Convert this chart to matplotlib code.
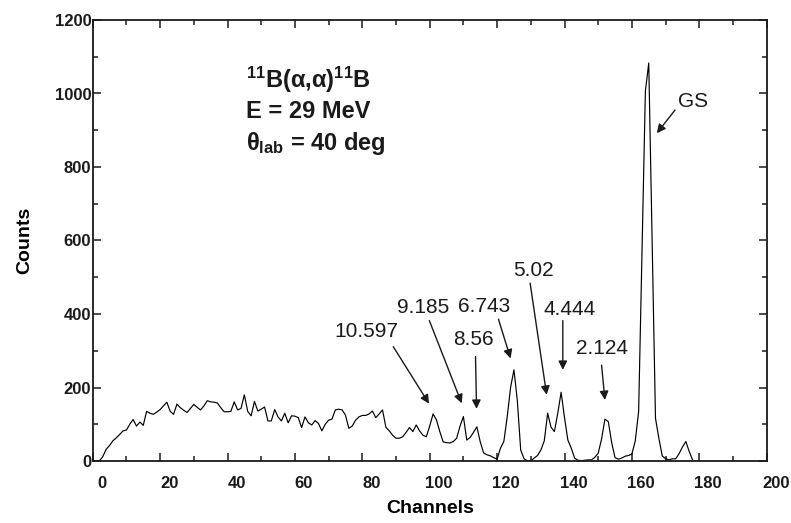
import numpy as np
import matplotlib
matplotlib.use("Agg")
import matplotlib.pyplot as plt
import matplotlib.transforms as mtransforms

plt.rcParams['font.family'] = ['Liberation Sans', 'DejaVu Sans']
plt.rcParams['mathtext.fontset'] = 'custom'
plt.rcParams['mathtext.rm'] = 'Liberation Sans:bold'
plt.rcParams['mathtext.it'] = 'Liberation Sans:bold'
plt.rcParams['mathtext.bf'] = 'Liberation Sans:bold'

# ---------------- data ----------------
channels = list(range(0, 179))
counts = [
    0, 0, 0, 12, 32, 42, 55, 63, 72, 82,            # 0-9
    84, 100, 113, 95, 106, 97, 135, 130, 127, 133,  # 10-19
    140, 150, 160, 135, 127, 155, 145, 138, 132, 143,  # 20-29
    154, 146, 139, 150, 164, 161, 160, 158, 145, 134,  # 30-39
    134, 135, 161, 139, 143, 180, 135, 123, 162, 136,  # 40-49
    141, 147, 109, 109, 140, 120, 109, 130, 104, 123,  # 50-59
    122, 118, 91, 120, 104, 98, 110, 102, 82, 100,     # 60-69
    111, 114, 139, 141, 139, 125, 89, 95, 111, 120,    # 70-79
    124, 124, 128, 136, 118, 128, 139, 92, 82, 70,     # 80-89
    62, 62, 66, 78, 91, 80, 98, 82, 70, 66,            # 90-99
    95, 128, 112, 80, 52, 50, 49, 53, 62, 95,          # 100-109
    121, 57, 64, 78, 93, 52, 22, 17, 14, 9,            # 110-119
    5, 35, 53, 120, 200, 248, 165, 30, 6, 0,           # 120-129
    0, 8, 15, 30, 55, 130, 92, 80, 130, 187,           # 130-139
    118, 57, 35, 8, 2, 1, 2, 3, 3, 10,                 # 140-149
    21, 60, 114, 107, 50, 9, 5, 8, 13, 15,             # 150-159
    19, 55, 135, 570, 1006, 1083, 600, 116, 62, 14,    # 160-169
    6, 3, 6, 6, 20, 38, 53, 26, 3,                     # 170-178
]

peak_labels = ["10.597", "9.185", "6.743", "8.56", "5.02", "4.444", "2.124", "GS"]
label_pos = [(81.3, 352), (98.1, 418), (116.1, 420), (112.9, 331),
             (130.7, 518), (141.6, 413), (151.0, 307), (178.2, 978)]
arrow_start = [(89.2, 311), (99.9, 382), (120.4, 386), (113.6, 284),
               (129.8, 484), (139.5, 382), (151.0, 261), (172.8, 955)]
arrow_tip = [(99.8, 156), (109.5, 157), (124.0, 279), (113.9, 142),
             (134.7, 180), (139.5, 248), (152.0, 166), (167.4, 892)]

info_lines = [r'$^{11}$B(α,α)$^{11}$B', 'E = 29 MeV', r'θ$_{\mathrm{lab}}$ = 40 deg']
info_y = [1037, 950, 864]

x_ticks = [0, 20, 40, 60, 80, 100, 120, 140, 160, 180, 200]
y_ticks = [0, 200, 400, 600, 800, 1000, 1200]

# ---------------- figure ----------------
W, H = 791, 523
fig = plt.figure(figsize=(W / 100, H / 100), dpi=100)
ax = fig.add_axes([92.7 / W, 1 - 461 / H, (766.7 - 92.7) / W, (461 - 20) / H])

ax.plot(channels, counts, color='black', lw=0.85)

ax.set_xlim(0, 200)
ax.set_ylim(0, 1200)
ax.set_xticks(x_ticks)
ax.set_yticks(y_ticks)
ax.set_xticks(np.arange(10, 200, 20), minor=True)
ax.set_yticks(np.arange(100, 1200, 200), minor=True)

ax.tick_params(which='both', direction='in', top=True, right=True, width=1.1,
               colors='#1a1a1a')
ax.tick_params(which='major', length=6)
ax.tick_params(which='minor', length=3.5)
ax.tick_params(axis='x', which='major', pad=11)
ax.tick_params(axis='y', which='major', pad=1)
for sp in ax.spines.values():
    sp.set_linewidth(1.3)
    sp.set_color('#1a1a1a')

for lab in ax.get_xticklabels():
    lab.set_fontsize(12)
    lab.set_fontweight('bold')
for lab in ax.get_yticklabels():
    lab.set_fontsize(12)
    lab.set_fontweight('bold')

offset = mtransforms.ScaledTranslation(9 / 100, 0, fig.dpi_scale_trans)
for lab in ax.get_xticklabels():
    lab.set_transform(lab.get_transform() + offset)

ax.set_xlabel('Channels', fontsize=14, fontweight='bold', labelpad=6)
ax.set_ylabel('Counts', fontsize=14, fontweight='bold', labelpad=15)

for txt, (tx, ty), st, tp in zip(peak_labels, label_pos, arrow_start, arrow_tip):
    ax.text(tx, ty, txt, fontsize=15, ha='center', va='center', color='#1a1a1a')
    ax.annotate('', xy=tp, xytext=st,
                arrowprops=dict(arrowstyle='-|>', lw=1.0, color='#1a1a1a',
                                mutation_scale=13, shrinkA=0, shrinkB=0))

for txt, yy in zip(info_lines, info_y):
    ax.text(45.5, yy, txt, fontsize=17, fontweight='bold', ha='left', va='center',
            color='#1a1a1a')

fig.savefig('out.png', dpi=100)
